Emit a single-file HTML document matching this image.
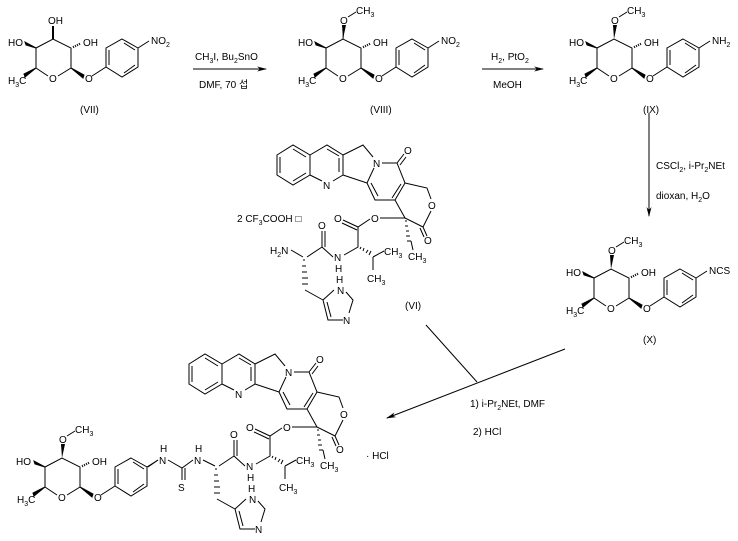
<!DOCTYPE html>
<html><head><meta charset="utf-8"><style>
html,body{margin:0;padding:0;background:#fff;}
svg{display:block;}
text{font-family:"Liberation Sans","Noto Sans CJK KR",sans-serif;font-size:10px;fill:#000;}
.s{font-size:7px;}
</style></head><body>
<svg width="738" height="541" viewBox="0 0 738 541" xmlns="http://www.w3.org/2000/svg">
<defs>
<marker id="ah" markerWidth="10" markerHeight="6" refX="9" refY="3" orient="auto" markerUnits="userSpaceOnUse">
<path d="M0,0.5 L10,3 L0,5.5 L3,3 Z" fill="#000"/>
</marker>
<g id="sug" stroke="#000" stroke-width="1" fill="none">
<path d="M36,48 L53,39 L71,48 L71,68 L58,76 M48,76 L36,68 L36,48"/>
<path d="M36,48 L25,42 L26,45 Z" fill="#000"/>
<path d="M36,68 L24,74 L25,77 Z" fill="#000"/>
<path d="M71,68 L84,75 L83,78 Z" fill="#000"/>
<path d="M73,46 L74,48 M75,45 L76,47 M77,44 L78,46 M79,43 L80,45"/>
<path d="M92,76 L106,67"/>
<path d="M122,39 L138,48 L138,67 L122,77 L106,67 L106,48 Z M124,43 L135,50 M135,65 L124,73 M109,50 L109,65"/>
<path d="M138,48 L149,41"/>
</g>
<g id="cpt" stroke="#000" stroke-width="1" fill="none">
<path d="M277,155 L293,145 L310,155 L310,175 L293,185 L277,175 Z M293,149 L306,157 M306,173 L293,181 M280,173 L280,157"/>
<path d="M310,155 L327,145 L343,155 L343,175 L333,181 M322,181 L310,175 M327,149 L339,156 M339,158 L339,172"/>
<path d="M343,155 L363,145 L373,157 M374,168 L367,183 L343,175"/>
<path d="M382,163 L397,163 L405,183 L395,200 L375,200 L367,183 M378,196 L371,183 M401,184 L392,198"/>
<path d="M397,163 L404,154 M400,165 L406,157"/>
<path d="M405,183 L427,188 L431,199 M431,211 L423,227 L427,236 M420,228 L424,237 M423,227 L405,218 L395,200"/>
<path d="M405,218 L380,218 M370,219 L358,227 L343,220 M357,230 L342,223 M358,227 L358,247 L344,255"/>
<path d="M373,257 L384,251 M373,257 L373,270"/>
<path d="M360,249 L361,247 M363,251 L364,248 M366,253 L368,250 M369,255 L371,251"/>
<path d="M405,221 L407,221 M405,226 L408,226 M406,231 L409,231 M406,236 L410,236 M407,241 L411,241 M411,241 L413,250"/>
<path d="M333,257 L322,247 L322,231 M325,247 L325,231 M322,247 L307,257"/>
<path d="M303,260 L305,260 M302,266 L306,266 M302,272 L307,272 M302,278 L308,278 M302,284 L308,284 M305,290 L323,300"/>
<path d="M323,300 L334,290 M346,292 L353,300 L349,313 M343,320 L328,320 L323,300 M331,317 L327,302"/>
</g>
</defs>

<!-- VII -->
<use href="#sug"/>
<path d="M53,39 L53,26" stroke="#000" stroke-width="2"/>
<text x="8" y="46">HO</text>
<text x="48" y="24">OH</text>
<text x="83" y="46">OH</text>
<text x="8" y="84">H<tspan class="s" dy="3">3</tspan><tspan dy="-3">C</tspan></text>
<text x="49" y="82">O</text>
<text x="85" y="82">O</text>
<text x="151" y="44">NO<tspan class="s" dy="3">2</tspan></text>
<text x="80" y="113">(VII)</text>

<!-- VIII -->
<g transform="translate(290,0)">
<use href="#sug"/>
<path d="M53,39 L54,25 M58,17 L66,12" stroke="#000" stroke-width="1" fill="none"/>
<path d="M53,39 L52,25 L56,25 Z" fill="#000"/>
<text x="8" y="46">HO</text>
<text x="50" y="24">O</text>
<text x="66" y="14">CH<tspan class="s" dy="3">3</tspan></text>
<text x="83" y="46">OH</text>
<text x="8" y="84">H<tspan class="s" dy="3">3</tspan><tspan dy="-3">C</tspan></text>
<text x="49" y="82">O</text>
<text x="85" y="82">O</text>
<text x="151" y="44">NO<tspan class="s" dy="3">2</tspan></text>
<text x="80" y="113">(VIII)</text>
</g>

<!-- IX -->
<g transform="translate(561,0)">
<use href="#sug"/>
<path d="M58,17 L66,12" stroke="#000" stroke-width="1" fill="none"/>
<path d="M53,39 L52,25 L56,25 Z" fill="#000"/>
<text x="8" y="46">HO</text>
<text x="50" y="24">O</text>
<text x="66" y="14">CH<tspan class="s" dy="3">3</tspan></text>
<text x="83" y="46">OH</text>
<text x="8" y="84">H<tspan class="s" dy="3">3</tspan><tspan dy="-3">C</tspan></text>
<text x="49" y="82">O</text>
<text x="85" y="82">O</text>
<text x="151" y="44">NH<tspan class="s" dy="3">2</tspan></text>
<text x="82" y="113">(IX)</text>
</g>

<!-- X -->
<g transform="translate(558,230)">
<use href="#sug"/>
<path d="M58,17 L66,12" stroke="#000" stroke-width="1" fill="none"/>
<path d="M53,39 L52,25 L56,25 Z" fill="#000"/>
<text x="8" y="46">HO</text>
<text x="50" y="24">O</text>
<text x="66" y="14">CH<tspan class="s" dy="3">3</tspan></text>
<text x="83" y="46">OH</text>
<text x="8" y="84">H<tspan class="s" dy="3">3</tspan><tspan dy="-3">C</tspan></text>
<text x="49" y="82">O</text>
<text x="85" y="82">O</text>
<text x="151" y="44">NCS</text>
<text x="85" y="113">(X)</text>
</g>

<!-- arrows -->
<line x1="193" y1="69" x2="266" y2="69" stroke="#000" marker-end="url(#ah)"/>
<text x="195" y="60">CH<tspan class="s" dy="3">3</tspan><tspan dy="-3">I, Bu</tspan><tspan class="s" dy="3">2</tspan><tspan dy="-3">SnO</tspan></text>
<text x="199" y="88">DMF, 70 섭</text>
<line x1="482" y1="69" x2="543" y2="69" stroke="#000" marker-end="url(#ah)"/>
<text x="491" y="60">H<tspan class="s" dy="3">2</tspan><tspan dy="-3">, PtO</tspan><tspan class="s" dy="3">2</tspan></text>
<text x="493" y="88">MeOH</text>
<line x1="649" y1="113" x2="649" y2="216" stroke="#000" marker-end="url(#ah)"/>
<text x="656" y="169">CSCl<tspan class="s" dy="3">2</tspan><tspan dy="-3">, i-Pr</tspan><tspan class="s" dy="3">2</tspan><tspan dy="-3">NEt</tspan></text>
<text x="656" y="199">dioxan, H<tspan class="s" dy="3">2</tspan><tspan dy="-3">O</tspan></text>
<line x1="565" y1="349" x2="387" y2="418" stroke="#000" marker-end="url(#ah)"/>
<line x1="426" y1="325" x2="477" y2="382" stroke="#000"/>
<text x="470" y="407">1) i-Pr<tspan class="s" dy="3">2</tspan><tspan dy="-3">NEt, DMF</tspan></text>
<text x="473" y="435">2) HCl</text>

<!-- VI -->
<use href="#cpt"/>
<path d="M303,257 L291,250" stroke="#000" fill="none"/>
<text x="270" y="254">H<tspan class="s" dy="3">2</tspan><tspan dy="-3">N</tspan></text>
<text x="237" y="222">2 CF<tspan class="s" dy="3">3</tspan><tspan dy="-3">COOH □</tspan></text>
<g id="cptText">
<text x="323" y="189">N</text>
<text x="373" y="167">N</text>
<text x="404" y="154">O</text>
<text x="428" y="209">O</text>
<text x="424" y="244">O</text>
<text x="371" y="222">O</text>
<text x="334" y="222">O</text>
<text x="318" y="229">O</text>
<text x="334" y="261">N</text>
<text x="335" y="272">H</text>
<text x="384" y="255">CH<tspan class="s" dy="3">3</tspan></text>
<text x="408" y="260">CH<tspan class="s" dy="3">3</tspan></text>
<text x="367" y="282">CH<tspan class="s" dy="3">3</tspan></text>
<text x="337" y="294">N</text>
<text x="336" y="283">H</text>
<text x="343" y="324">N</text>
</g>
<text x="405" y="309">(VI)</text>

<!-- final -->
<g transform="translate(-88,209)">
<use href="#cpt"/>
<use href="#cptText"/>
</g>
<g transform="translate(9,419)">
<use href="#sug"/>
<path d="M58,17 L66,12" stroke="#000" stroke-width="1" fill="none"/>
<path d="M53,39 L52,25 L56,25 Z" fill="#000"/>
<text x="7" y="46">HO</text>
<text x="50" y="24">O</text>
<text x="66" y="14">CH<tspan class="s" dy="3">3</tspan></text>
<text x="83" y="46">OH</text>
<text x="8" y="84">H<tspan class="s" dy="3">3</tspan><tspan dy="-3">C</tspan></text>
<text x="49" y="82">O</text>
<text x="85" y="82">O</text>
</g>
<path d="M158,460 L148,467 M168,460 L182,468 L193,460 M182,468 L182,480 M185,468 L185,480 M203,460 L215,466" stroke="#000" fill="none"/>
<text x="159" y="464">N</text>
<text x="160" y="452">H</text>
<text x="178" y="491">S</text>
<text x="194" y="464">N</text>
<text x="195" y="452">H</text>
<text x="366" y="459">· HCl</text>
</svg>
</body></html>
